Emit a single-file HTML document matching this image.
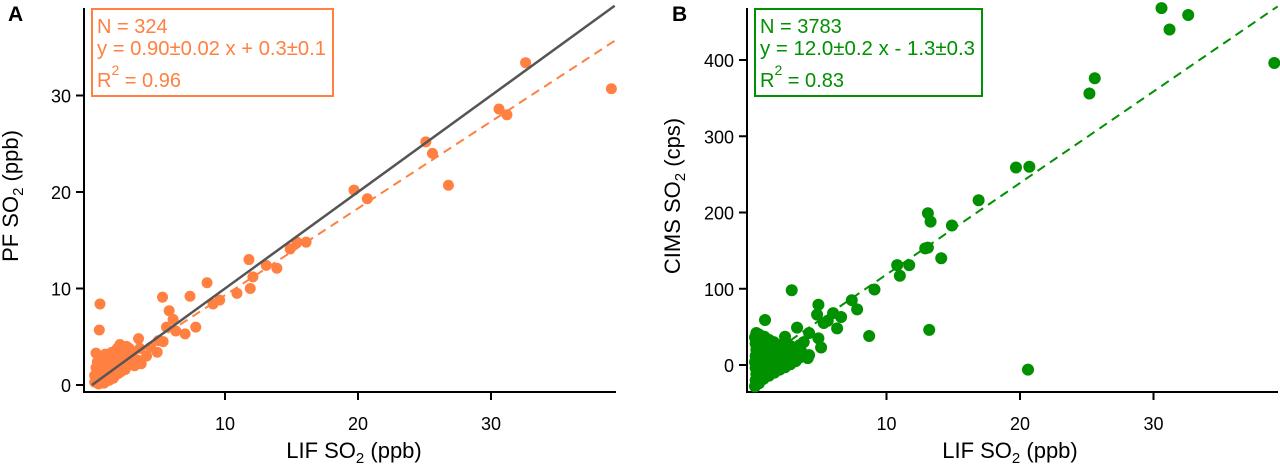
<!DOCTYPE html>
<html><head><meta charset="utf-8"><style>
html,body{margin:0;padding:0;background:#fff;}
svg{display:block;font-family:"Liberation Sans",sans-serif;}
</style></head><body>
<svg id="chart" width="1280" height="464" viewBox="0 0 1280 464">
<g id="pa"></g>
<g id="pb"></g>
</svg>
<script>
// Panel A data
const aXTicks = [10, 20, 30];
const aYTicks = [0, 10, 20, 30];
const aSlope = 0.90, aIntercept = 0.3;
const aPoints = [
[32.6,33.4],[39.05,30.7],[30.6,28.6],[31.2,28.0],[25.1,25.2],[25.6,24.0],[26.8,20.7],[19.7,20.2],[20.7,19.3],
[16.1,14.8],[15.4,14.8],[14.9,14.1],[11.8,13.0],[12.1,11.2],[11.9,10.0],[10.9,9.5],[13.1,12.4],[13.9,12.1],
[8.65,10.6],[9.6,8.8],[9.1,8.4],[7.37,9.2],[5.3,9.1],[5.8,7.7],[6.1,6.8],[7.8,6.0],[7.0,5.3],[5.6,6.0],
[5.35,4.5],[4.9,3.4],[3.5,4.8],[4.1,3.0],[3.7,2.2],[0.6,8.4],[0.55,5.7],[0.3,3.3],[2.1,4.2],
[0.2,0.3],[0.3,0.6],[0.4,1.0],[0.5,0.4],[0.6,1.2],[0.7,0.8],[0.8,1.5],[0.9,0.6],[1.0,1.8],[1.1,1.2],[1.2,2.2],
[1.3,0.9],[1.4,1.6],[1.5,2.6],[1.6,1.3],[1.7,2.0],[1.8,3.0],[1.9,1.7],[2.0,2.4],[2.1,3.4],[2.2,1.9],[2.3,2.8],
[2.4,3.6],[2.5,2.2],[2.6,3.0],[2.7,2.6],[2.8,3.8],[2.9,2.4],[3.0,3.2],[3.2,2.0],[0.3,1.8],[0.4,2.4],[0.6,2.0],
[0.8,2.8],[1.0,3.2],[1.2,2.9],[1.5,3.4],[0.5,0.1],[0.9,0.2],[1.3,0.5],[1.7,0.9],[2.0,1.2],[2.5,1.6],[0.2,1.0],
[0.7,0.3],[1.1,0.4],[1.6,0.7],[2.2,1.4],[3.4,2.6],[3.6,3.8],[2.6,4.0],[1.9,3.8],[5.0,4.6],[6.3,5.6],[4.4,3.9]
];
// Panel B data
const bXTicks = [10, 20, 30];
const bYTicks = [0, 100, 200, 300, 400];
const bSlope = 12.0, bIntercept = -1.3;
const bPoints = [
[30.6,468],[31.2,440],[32.6,459],[39.05,396],[25.2,356],[25.6,376],[19.7,259],[20.7,260],[16.9,216],
[13.1,199],[13.3,188],[14.9,183],[12.9,153],[13.1,154],[14.1,140],[10.8,131],[11.7,131],[11.0,117],
[9.1,99],[2.9,98],[7.4,85],[7.8,73],[4.9,79],[4.8,66],[6.0,68],[6.6,63],[5.3,55],[6.3,48],[8.7,38],
[13.2,46],[20.6,-6],[3.3,49],[4.2,42],[4.9,35],[5.1,23],[4.1,9],[4.2,13],[0.9,59],[2.4,37],[5.6,58],[3.8,30],
[0.15,-28],[0.2,-20],[0.25,-12],[0.2,-4],[0.15,4],[0.2,12],[0.25,20],[0.2,28],[0.15,36],[0.25,42],
[0.45,-24],[0.5,-16],[0.45,-8],[0.5,0],[0.45,8],[0.5,16],[0.45,24],[0.5,32],[0.45,40],
[0.8,-18],[0.85,-10],[0.8,-2],[0.85,6],[0.8,14],[0.85,22],[0.8,30],[0.85,37],
[1.2,-14],[1.15,-6],[1.2,2],[1.15,10],[1.2,18],[1.15,26],[1.2,33],
[1.6,-10],[1.55,-2],[1.6,6],[1.55,14],[1.6,22],[1.55,30],
[2.0,-6],[2.0,2],[2.0,10],[2.0,18],[2.0,26],
[2.4,-3],[2.4,5],[2.4,13],[2.4,21],[2.4,28],
[2.8,1],[2.8,9],[2.8,17],[2.8,25],[3.2,5],[3.2,14],[3.2,22],[3.5,10],[3.6,18],[3.5,26]
];

const NS = 'http://www.w3.org/2000/svg';
function mk(parent, tag, attrs, text){
  const e = document.createElementNS(NS, tag);
  for (const k in attrs) e.setAttribute(k, attrs[k]);
  if (text !== undefined) e.textContent = text;
  parent.appendChild(e);
  return e;
}

function drawPanel(g, cfg){
  const sx = v => cfg.x0 + (v - 0) * cfg.kx;
  const sy = v => cfg.y0 - (v - cfg.yZero) * cfg.ky;
  const ax = mk(g, 'path', {d:`M${cfg.left} ${cfg.top} V${cfg.bottom} H${cfg.right}`, fill:'none', stroke:'#000', 'stroke-width':2});
  
  
  cfg.xTicks.forEach(t => {
    const x = sx(t);
    const tk = mk(g, 'line', {x1:x, x2:x, y1:cfg.bottom, y2:cfg.bottom+8, stroke:'#000', 'stroke-width':2});
    
    
    const lb = mk(g, 'text', {x:x, y:cfg.bottom+38, 'text-anchor':'middle', 'font-size':18}, String(t));
    
    
  });
  cfg.yTicks.forEach(t => {
    const y = sy(t);
    const tk = mk(g, 'line', {x1:cfg.left-8, x2:cfg.left, y1:y, y2:y, stroke:'#000', 'stroke-width':2});
    
    
    const lb = mk(g, 'text', {x:cfg.left-13, y:y+7, 'text-anchor':'end', 'font-size':18}, String(t));
    
    
  });
  const xe = cfg.xMax;
  const fit = mk(g, 'line', {x1:sx(0), y1:sy(cfg.intercept), x2:sx(xe), y2:sy(cfg.slope*xe+cfg.intercept), stroke:cfg.color, 'stroke-width':2, 'stroke-dasharray':'9,6'});
  
  
  cfg.points.forEach(p => {
    const c = mk(g, 'circle', {cx:sx(p[0]), cy:sy(p[1]), r:cfg.r, fill:cfg.color});
    
    
  });
  if (cfg.oneToOne) {
    const l = mk(g, 'line', {x1:sx(0), y1:sy(0), x2:sx(xe), y2:sy(xe), stroke:'#555', 'stroke-width':2.5});
    
    
  }
  const b = cfg.box;
  const rect = mk(g, 'rect', {x:b.x, y:b.y, width:b.w, height:b.h, fill:'#fff', stroke:cfg.color, 'stroke-width':2});
  
  
  const t1 = mk(g, 'text', {x:b.x+5, y:b.y+24, fill:cfg.color, 'font-size':20}, cfg.lines[0]);
  
  
  const t2 = mk(g, 'text', {x:b.x+5, y:b.y+46, fill:cfg.color, 'font-size':20, textLength:b.w-12, lengthAdjust:'spacingAndGlyphs'}, cfg.lines[1]);
  
  
  const t3 = mk(g, 'text', {x:b.x+5, y:b.y+78, fill:cfg.color, 'font-size':20});
  
  
  mk(t3, 'tspan', {}, 'R');
  mk(t3, 'tspan', {dy:-12, 'font-size':14}, '2');
  mk(t3, 'tspan', {dy:12}, ' = ' + cfg.lines[2]);
  const xt = mk(g, 'text', {x:cfg.xTitleX, y:458, 'text-anchor':'middle', 'font-size':22});
  
  
  mk(xt, 'tspan', {}, 'LIF SO');
  mk(xt, 'tspan', {dy:5, 'font-size':15}, '2');
  mk(xt, 'tspan', {dy:-5}, ' (ppb)');
  const yt = mk(g, 'text', {x:0, y:0, 'text-anchor':'middle', 'font-size':22, transform:`translate(${cfg.yTitleX},${cfg.yTitleY}) rotate(-90)`});
  
  
  mk(yt, 'tspan', {}, cfg.yTitle);
  mk(yt, 'tspan', {dy:5, 'font-size':15}, '2');
  mk(yt, 'tspan', {dy:-5}, cfg.yUnit);
  const pl = mk(g, 'text', {x:cfg.letterX, y:21, 'font-size':21, 'font-weight':'bold'}, cfg.letter);
  
  
}

drawPanel(document.getElementById('pa'), {
  id:'panel-a', x0:92, kx:13.3, y0:385, yZero:0, ky:9.65,
  left:84, right:616, top:8, bottom:392, xMax:39.3,
  xTicks:aXTicks, yTicks:aYTicks, points:aPoints, slope:aSlope, intercept:aIntercept,
  color:'#ff8040', r:5.5, oneToOne:true,
  box:{x:92, y:9, w:241, h:87}, lines:['N = 324','y = 0.90\u00b10.02 x + 0.3\u00b10.1','0.96'],
  xTitleX:354, yTitleX:18, yTitleY:196, yTitle:'PF SO', yUnit:' (ppb)', letter:'A', letterX:8
});
drawPanel(document.getElementById('pb'), {
  id:'panel-b', x0:753, kx:13.35, y0:365, yZero:0, ky:0.7625,
  left:747, right:1278, top:8, bottom:392, xMax:39.3,
  xTicks:bXTicks, yTicks:bYTicks, points:bPoints, slope:bSlope, intercept:bIntercept,
  color:'#009000', r:6, oneToOne:false,
  box:{x:755, y:9, w:227, h:87}, lines:['N = 3783','y = 12.0\u00b10.2 x - 1.3\u00b10.3','0.83'],
  xTitleX:1010, yTitleX:680, yTitleY:196, yTitle:'CIMS SO', yUnit:' (cps)', letter:'B', letterX:672
});
</script>
</body></html>
